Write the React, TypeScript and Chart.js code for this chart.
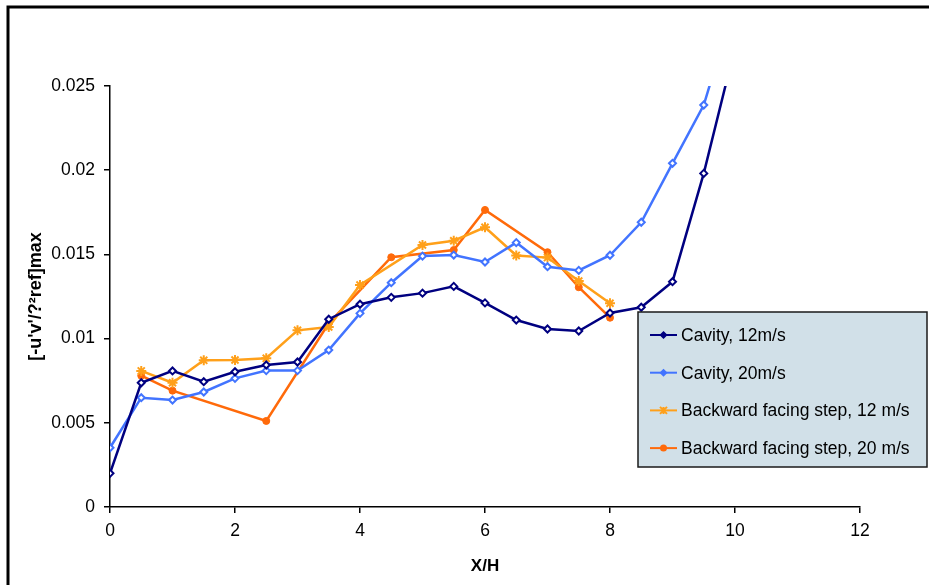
import React, { useEffect, useRef } from 'react';
import { Chart, registerables } from 'chart.js';

Chart.register(...registerables);

// ---- data ----
const cavityX = [0, 0.5, 1, 1.5, 2, 2.5, 3, 3.5, 4, 4.5, 5, 5.5, 6, 6.5, 7, 7.5, 8, 8.5, 9, 9.5, 10];
const cavity12 = [0.0020, 0.00738, 0.00808, 0.00744, 0.00803, 0.00843, 0.00861, 0.01115, 0.01204, 0.01245, 0.01270, 0.01310, 0.01212, 0.01110, 0.01057, 0.01045, 0.01152, 0.01186, 0.01338, 0.01981, 0.0273];
const cavity20 = [0.00352, 0.00649, 0.00635, 0.00683, 0.00764, 0.00810, 0.00810, 0.00932, 0.01150, 0.01332, 0.01490, 0.01496, 0.01455, 0.01570, 0.01427, 0.01405, 0.01495, 0.01691, 0.02041, 0.02387, 0.0300];
const bfs12X = [0.5, 1, 1.5, 2, 2.5, 3, 3.5, 4, 5, 5.5, 6, 6.5, 7, 7.5, 8];
const bfs12 = [0.00808, 0.00738, 0.00871, 0.00873, 0.00883, 0.01049, 0.01069, 0.01318, 0.01556, 0.01581, 0.01661, 0.01494, 0.01481, 0.01342, 0.01210];
const bfs20X = [0.5, 1, 2.5, 3.5, 4.5, 5.5, 6, 7, 7.5, 8];
const bfs20 = [0.00780, 0.00691, 0.00511, 0.01091, 0.01483, 0.01526, 0.01764, 0.01513, 0.01305, 0.01124];

const seriesNames = ['Cavity, 12m/s', 'Cavity, 20m/s', 'Backward facing step, 12 m/s', 'Backward facing step, 20 m/s'];
const seriesColors = ['#000080', '#4274FF', '#FFA01A', '#FF6A0A'];
const xTickLabels = ['0', '2', '4', '6', '8', '10', '12'];
const yTickLabels = ['0', '0.005', '0.01', '0.015', '0.02', '0.025'];
const xTitle = 'X/H';
const yTitle = "[-u'v'/?\u00B2ref]max";

const pts = (xs: number[], ys: number[]) => xs.map((x, i) => ({ x, y: ys[i] }));

function drawMarker(ctx: CanvasRenderingContext2D, style: string, x: number, y: number, color: string) {
  ctx.save();
  ctx.strokeStyle = color;
  ctx.fillStyle = color;
  ctx.lineWidth = 1.5;
  if (style === 'rectRot') {
    const r = 3;
    ctx.beginPath();
    ctx.moveTo(x, y - r);
    ctx.lineTo(x + r, y);
    ctx.lineTo(x, y + r);
    ctx.lineTo(x - r, y);
    ctx.closePath();
    ctx.fill();
    ctx.stroke();
  } else if (style === 'star') {
    const r = 3.5;
    ctx.lineWidth = 2;
    ctx.beginPath();
    ctx.moveTo(x - r, y - r);
    ctx.lineTo(x + r, y + r);
    ctx.moveTo(x + r, y - r);
    ctx.lineTo(x - r, y + r);
    ctx.moveTo(x, y - r);
    ctx.lineTo(x, y + r);
    ctx.stroke();
  } else {
    ctx.beginPath();
    ctx.arc(x, y, 3.5, 0, Math.PI * 2);
    ctx.fill();
  }
  ctx.restore();
}

const framePlugin = {
  id: 'frame',
  beforeDraw(chart: any) {
    const ctx = chart.ctx as CanvasRenderingContext2D;
    ctx.save();
    ctx.fillStyle = '#ffffff';
    ctx.fillRect(0, 0, chart.width, chart.height);
    ctx.strokeStyle = '#000000';
    ctx.lineWidth = 3;
    ctx.beginPath();
    ctx.moveTo(8, chart.height + 5);
    ctx.lineTo(8, 7);
    ctx.lineTo(chart.width + 5, 7);
    ctx.stroke();
    ctx.restore();
  },
};

const legendPlugin = {
  id: 'boxLegend',
  afterDraw(chart: any) {
    const ctx = chart.ctx as CanvasRenderingContext2D;
    const bx = 638, by = 312, bw = 289, bh = 155;
    ctx.save();
    ctx.fillStyle = '#D1E0E8';
    ctx.fillRect(bx, by, bw, bh);
    ctx.strokeStyle = '#1a1a1a';
    ctx.lineWidth = 1.5;
    ctx.strokeRect(bx, by, bw, bh);
    chart.data.datasets.forEach((ds: any, i: number) => {
      const y = by + 23 + i * 37.7;
      ctx.strokeStyle = ds.borderColor;
      ctx.lineWidth = 2;
      ctx.beginPath();
      ctx.moveTo(650, y);
      ctx.lineTo(677, y);
      ctx.stroke();
      drawMarker(ctx, ds.pointStyle, 663.5, y, ds.borderColor);
      ctx.fillStyle = '#000000';
      ctx.font = '17.5px "Liberation Sans", Arial, sans-serif';
      ctx.textAlign = 'left';
      ctx.textBaseline = 'middle';
      ctx.fillText(ds.label, 681, y + 1);
    });
    ctx.restore();
  },
};

export default function App() {
  const ref = useRef<HTMLCanvasElement | null>(null);

  useEffect(() => {
    if (!ref.current) return;
    const font = { family: '"Liberation Sans", Arial, sans-serif', size: 17.5 };
    const chart = new Chart(ref.current, {
      type: 'line',
      data: {
        datasets: [
          {
            label: seriesNames[0],
            data: pts(cavityX, cavity12),
            borderColor: seriesColors[0],
            backgroundColor: '#ffffff',
            pointStyle: 'rectRot',
            pointRadius: 3.5,
            pointBorderWidth: 2,
            borderWidth: 2.5,
          },
          {
            label: seriesNames[1],
            data: pts(cavityX, cavity20),
            borderColor: seriesColors[1],
            backgroundColor: '#ffffff',
            pointStyle: 'rectRot',
            pointRadius: 3.5,
            pointBorderWidth: 2,
            borderWidth: 2.5,
          },
          {
            label: seriesNames[2],
            data: pts(bfs12X, bfs12),
            borderColor: seriesColors[2],
            backgroundColor: seriesColors[2],
            pointStyle: 'star',
            pointRadius: 5,
            pointBorderWidth: 2,
            borderWidth: 2.5,
          },
          {
            label: seriesNames[3],
            data: pts(bfs20X, bfs20),
            borderColor: seriesColors[3],
            backgroundColor: seriesColors[3],
            pointStyle: 'circle',
            pointRadius: 3.5,
            pointBorderWidth: 1,
            borderWidth: 2.5,
          },
        ] as any,
      },
      options: {
        animation: false,
        responsive: false,
        devicePixelRatio: 1,
        layout: { padding: { left: 0, right: 69, top: 86, bottom: 0 } },
        plugins: {
          legend: { display: false },
          tooltip: { enabled: false },
        },
        elements: { line: { tension: 0 } },
        scales: {
          x: {
            type: 'linear',
            min: 0,
            max: 12,
            ticks: {
              stepSize: 2,
              color: '#000',
              font,
              padding: 8,
              maxRotation: 0,
              callback: (_v: any, i: number) => xTickLabels[i],
            },
            grid: { display: true, drawOnChartArea: false, drawTicks: true, tickLength: 6, color: '#000', lineWidth: 1.5 },
            border: { display: true, color: '#000', width: 1.5 },
            title: {
              display: true,
              text: xTitle,
              color: '#000',
              font: { family: font.family, size: 17, weight: 'bold' },
              padding: { top: 0, bottom: 8 },
            },
            afterFit: (s: any) => { s.height = 78; },
          },
          y: {
            type: 'linear',
            min: 0,
            max: 0.025,
            ticks: {
              stepSize: 0.005,
              color: '#000',
              font,
              padding: 9,
              callback: (_v: any, i: number) => yTickLabels[i],
            },
            grid: { display: true, drawOnChartArea: false, drawTicks: true, tickLength: 6, color: '#000', lineWidth: 1.5 },
            border: { display: true, color: '#000', width: 1.5 },
            title: {
              display: true,
              text: yTitle,
              color: '#000',
              font: { family: font.family, size: 18, weight: 'bold' },
              padding: { top: 25, bottom: 0 },
            },
            afterFit: (s: any) => { s.width = 110; },
          },
        },
      } as any,
      plugins: [framePlugin, legendPlugin],
    });
    return () => chart.destroy();
  }, []);

  return (
    <div style={{ position: 'fixed', left: 0, top: 0, width: 929, height: 585, background: '#fff' }}>
      <canvas ref={ref} width={929} height={585} style={{ display: 'block', width: 929, height: 585 }} />
    </div>
  );
}
